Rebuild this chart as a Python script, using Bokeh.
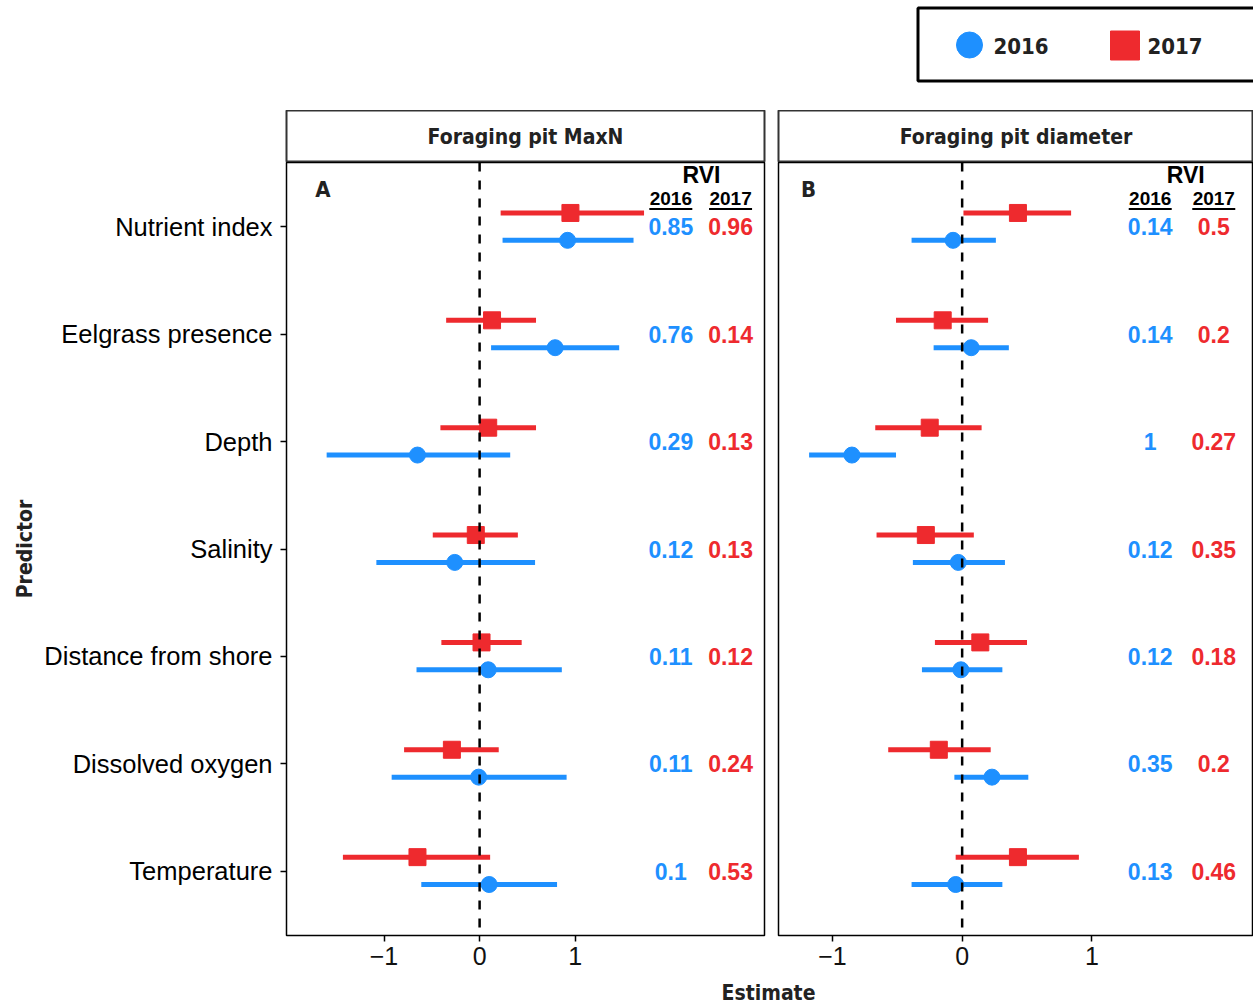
from bokeh.plotting import figure
from bokeh.layouts import column, row
from bokeh.models import ColumnDataSource, FactorRange, Range1d, Span, FixedTicker
from bokeh.transform import dodge
from bokeh.core.properties import value
from bokeh.embed import file_html
from bokeh.resources import INLINE

# ---------------- data ----------------
predictors = ["Nutrient index", "Eelgrass presence", "Depth", "Salinity",
              "Distance from shore", "Dissolved oxygen", "Temperature"]
years = ["2016", "2017"]
panel_titles = ["Foraging pit MaxN", "Foraging pit diameter"]
panel_tags = ["A", "B"]
x_ticks = [-1, 0, 1]

# Panel A: Foraging pit MaxN
a16_est = [0.92, 0.79, -0.65, -0.26, 0.09, -0.01, 0.10]
a16_lo = [0.24, 0.12, -1.60, -1.08, -0.66, -0.92, -0.61]
a16_hi = [1.61, 1.46, 0.32, 0.58, 0.86, 0.91, 0.81]
a17_est = [0.95, 0.13, 0.09, -0.04, 0.02, -0.29, -0.65]
a17_lo = [0.22, -0.35, -0.41, -0.49, -0.40, -0.79, -1.43]
a17_hi = [1.72, 0.59, 0.59, 0.40, 0.44, 0.20, 0.11]
a16_rvi = ["0.85", "0.76", "0.29", "0.12", "0.11", "0.11", "0.1"]
a17_rvi = ["0.96", "0.14", "0.13", "0.13", "0.12", "0.24", "0.53"]

# Panel B: Foraging pit diameter
b16_est = [-0.07, 0.07, -0.85, -0.03, -0.01, 0.23, -0.05]
b16_lo = [-0.39, -0.22, -1.18, -0.38, -0.31, -0.06, -0.39]
b16_hi = [0.26, 0.36, -0.51, 0.33, 0.31, 0.51, 0.31]
b17_est = [0.43, -0.15, -0.25, -0.28, 0.14, -0.18, 0.43]
b17_lo = [0.01, -0.51, -0.67, -0.66, -0.21, -0.57, -0.05]
b17_hi = [0.84, 0.20, 0.15, 0.09, 0.50, 0.22, 0.90]
b16_rvi = ["0.14", "0.14", "1", "0.12", "0.12", "0.35", "0.13"]
b17_rvi = ["0.5", "0.2", "0.27", "0.35", "0.18", "0.2", "0.46"]

# ---------------- style ----------------
BLUE = "#1E90FF"
RED = "#EE2A2E"
COND_NAME = "DejaVu Sans Condensed, Roboto"
COND = value(COND_NAME)
SANS = value("Liberation Sans")
W = 1253
HDR_H, STRIP_H, PANEL_H, FOOT_H = 110, 52, 813, 31


def blank(width, height, xr, yr, bl=0, br=0):
    p = figure(width=width, height=height, x_range=xr, y_range=yr,
               output_backend="svg", toolbar_location=None, title=None,
               x_axis_location=None, y_axis_location=None,
               min_border_left=bl, min_border_right=br, min_border_top=0, min_border_bottom=0)
    p.xgrid.visible = False
    p.ygrid.visible = False
    p.outline_line_color = None
    p.background_fill_color = "white"
    p.border_fill_color = "white"
    return p


def strip(title, width, bl, br):
    p = blank(width, STRIP_H, Range1d(0, 1), Range1d(0, 1), bl, br)
    p.outline_line_color = "#333333"
    p.outline_line_width = 2
    p.text(x=[0.5], y=[0.5], text=[title], text_align="center", text_baseline="middle",
           text_font=COND, text_font_style="bold", text_font_size="21px", text_color="#222222")
    return p


def panel(width, bl, br, xr, show_y, tag, d16, d17, col_x, rvi_x, tag_x):
    yr = FactorRange(factors=predictors[::-1], range_padding=0.1, range_padding_units="absolute")
    p = figure(width=width, height=PANEL_H, x_range=Range1d(*xr), y_range=yr,
               output_backend="svg", toolbar_location=None, title=None,
               y_axis_location="left" if show_y else None,
               min_border_left=bl, min_border_right=br, min_border_top=0, min_border_bottom=40)
    p.xgrid.visible = False
    p.ygrid.visible = False
    p.outline_line_color = "black"
    p.outline_line_width = 1.5
    p.background_fill_color = "white"
    p.border_fill_color = "white"

    frame_w = width - bl - br
    ppu = frame_w / (xr[1] - xr[0])

    ax = p.xaxis[0]
    ax.ticker = FixedTicker(ticks=x_ticks)
    ax.major_label_overrides = {t: (("\u2212" + str(abs(t))) if t < 0 else str(t)) for t in x_ticks}
    ax.axis_line_color = None
    ax.major_tick_out = 6
    ax.major_tick_in = 0
    ax.major_tick_line_width = 1.5
    ax.minor_tick_line_color = None
    ax.major_label_text_font = "Liberation Sans"
    ax.major_label_text_font_size = "25px"
    ax.major_label_text_color = "#111111"
    ax.major_label_standoff = 5

    if show_y:
        ay = p.yaxis[0]
        ay.axis_line_color = None
        ay.major_tick_out = 6
        ay.major_tick_in = 0
        ay.major_tick_line_width = 1.5
        ay.major_label_text_font = "Liberation Sans"
        ay.major_label_text_font_size = "25.5px"
        ay.major_label_text_color = "black"
        ay.major_label_standoff = 8
        ay.axis_label = "Predictor"
        ay.axis_label_text_font = COND_NAME
        ay.axis_label_text_font_style = "bold"
        ay.axis_label_text_font_size = "21px"
        ay.axis_label_text_color = "#222222"
        ay.axis_label_standoff = 4

    s16 = ColumnDataSource(dict(pred=predictors, est=d16[0], lo=d16[1], hi=d16[2], rvi=d16[3]))
    s17 = ColumnDataSource(dict(pred=predictors, est=d17[0], lo=d17[1], hi=d17[2], rvi=d17[3]))

    y17 = dodge("pred", 0.13, range=p.y_range)
    y16 = dodge("pred", -0.125, range=p.y_range)

    p.segment(x0="lo", x1="hi", y0=y17, y1=y17, source=s17, line_color=RED, line_width=5)
    p.scatter(x="est", y=y17, source=s17, marker="square", size=17, fill_color=RED, line_color=RED)
    p.segment(x0="lo", x1="hi", y0=y16, y1=y16, source=s16, line_color=BLUE, line_width=5)
    p.scatter(x="est", y=y16, source=s16, marker="circle", size=16, fill_color=BLUE, line_color=BLUE)

    p.add_layout(Span(location=0, dimension="height", line_color="black",
                      line_width=2.5, line_dash="9 9"))

    # RVI columns
    p.text(x=col_x[0], y="pred", text="rvi", source=s16, text_align="center", text_baseline="middle",
           text_font=SANS, text_font_style="bold", text_font_size="23px", text_color=BLUE)
    p.text(x=col_x[1], y="pred", text="rvi", source=s17, text_align="center", text_baseline="middle",
           text_font=SANS, text_font_style="bold", text_font_size="23px", text_color=RED)

    top = predictors[0]
    hs = ColumnDataSource(dict(pred=[top, top], x=col_x, lab=years,
                               x0=[c - 21.5 / ppu for c in col_x], x1=[c + 21.5 / ppu for c in col_x]))
    p.text(x="x", y="pred", text="lab", source=hs, y_offset=-28, text_align="center",
           text_baseline="middle", text_font=SANS, text_font_style="bold",
           text_font_size="19px", text_color="black")
    yu = dodge("pred", 0.168, range=p.y_range)
    p.segment(x0="x0", x1="x1", y0=yu, y1=yu, source=hs, line_color="black", line_width=2)
    p.text(x=[rvi_x], y=[top], text=["RVI"], y_offset=-52, text_align="center",
           text_baseline="middle", text_font=SANS, text_font_style="bold",
           text_font_size="23px", text_color="black")
    p.text(x=[tag_x], y=[top], text=[tag], y_offset=-37, text_align="center",
           text_baseline="middle", text_font=COND, text_font_style="bold",
           text_font_size="22px", text_color="#222222")
    return p


# widths: panel A frame 286..764, panel B frame 778..1253
WA, BLA, BRA = 771, 286, 7
WB, BLB, BRB = W - WA, 7, 0
xrA = (-2.02, 2.98)
ppuB = 129.7
xrB = (-1.416, -1.416 + (WB - BLB - BRB) / ppuB)

pA = panel(WA, BLA, BRA, xrA, True, panel_tags[0],
           (a16_est, a16_lo, a16_hi, a16_rvi), (a17_est, a17_lo, a17_hi, a17_rvi),
           [2.00, 2.625], 2.32, -1.64)
pB = panel(WB, BLB, BRB, xrB, False, panel_tags[1],
           (b16_est, b16_lo, b16_hi, b16_rvi), (b17_est, b17_lo, b17_hi, b17_rvi),
           [1.45, 1.94], 1.724, -1.185)

sA = strip(panel_titles[0], WA, BLA, BRA)
sB = strip(panel_titles[1], WB, BLB, BRB)

# legend header (pixel coordinates, y downwards)
hdr = blank(W, HDR_H, Range1d(0, W), Range1d(HDR_H, 0))
hdr.quad(left=[917.5], right=[W + 20], top=[7.5], bottom=[80.5], fill_color="white",
         line_color="black", line_width=3)
hdr.scatter(x=[969], y=[44.5], marker="circle", size=26, fill_color=BLUE, line_color=BLUE)
hdr.scatter(x=[1124.5], y=[45], marker="square", size=29, fill_color=RED, line_color=RED)
hdr.text(x=[993, 1147], y=[45, 45], text=years, text_baseline="middle", text_align="left",
         text_font=COND, text_font_style="bold", text_font_size="22px", text_color="#222222")

# footer with shared x-axis title
foot = blank(W, FOOT_H, Range1d(0, W), Range1d(FOOT_H, 0))
foot.text(x=[768], y=[17], text=["Estimate"], text_align="center", text_baseline="middle",
          text_font=COND, text_font_style="bold", text_font_size="21px", text_color="#222222")

layout = column(hdr, row(column(sA, pA), column(sB, pB)), foot)

open("out.html", "w").write(file_html(layout, INLINE))
